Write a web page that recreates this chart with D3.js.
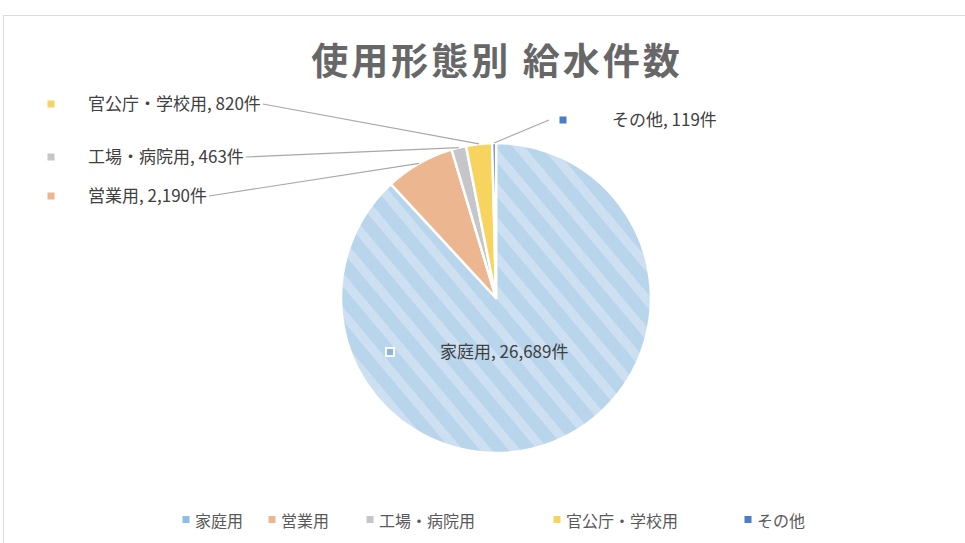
<!DOCTYPE html>
<html>
<head>
<meta charset="utf-8">
<script src="https://cdn.jsdelivr.net/npm/d3@7/dist/d3.min.js"></script>
<style>
  body { margin: 0; background: #fff; }
  svg { display: block; font-family: "Noto Sans CJK JP", "Noto Sans", sans-serif; }
</style>
</head>
<body>
<svg id="chart"></svg>
<script>
const categories = ["家庭用", "営業用", "工場・病院用", "官公庁・学校用", "その他"];
const counts = [26689, 2190, 463, 820, 119];
const colors = ["#b9d5ec", "#ecb690", "#c6c6ca", "#f6d45e", "#4f7bc9"];
const title = "使用形態別 給水件数";

// where Excel put the data labels (text start x, baseline y, marker x)
const labelPos = [
  { x: 440, y: 358, mx: 390 },
  { x: 88, y: 202, mx: 51 },
  { x: 88, y: 163, mx: 51 },
  { x: 88, y: 110, mx: 51 },
  { x: 612, y: 126, mx: 563 }
];

const width = 965;
const height = 543;
const labelSize = 17;

const svg = d3.select("#chart")
  .attr("width", width)
  .attr("height", height);

// stripes for the big slice
const defs = svg.append("defs");
const pat = defs.append("pattern")
  .attr("id", "stripes")
  .attr("patternUnits", "userSpaceOnUse")
  .attr("width", 22)
  .attr("height", 22)
  .attr("patternTransform", "rotate(-40)");
pat.append("rect").attr("width", 22).attr("height", 22).attr("fill", colors[0]);
pat.append("rect").attr("width", 9).attr("height", 22).attr("fill", "#cce0f2");

// chart area border
svg.append("rect")
  .attr("x", 3.5).attr("y", 15.5)
  .attr("width", width + 10).attr("height", height)
  .attr("fill", "none")
  .attr("stroke", "#dcdcdc");

svg.append("text")
  .attr("x", 497)
  .attr("y", 75)
  .attr("text-anchor", "middle")
  .attr("font-size", 37)
  .attr("letter-spacing", 3)
  .attr("font-weight", "bold")
  .attr("fill", "#676767")
  .text(title);

const cx = 496, cy = 298, r = 155;

const pie = d3.pie().sort(null).value(d => d);
const arcs = pie(counts);

const arc = d3.arc().innerRadius(0).outerRadius(r);
const edge = d3.arc().innerRadius(r).outerRadius(r);

const g = svg.append("g").attr("transform", `translate(${cx},${cy})`);

g.selectAll("path.slice")
  .data(arcs)
  .enter().append("path")
  .attr("class", "slice")
  .attr("d", arc)
  .attr("fill", (d, i) => i === 0 ? "url(#stripes)" : colors[i])
  .attr("stroke", "#fff")
  .attr("stroke-width", 2.5)
  .attr("stroke-linejoin", "round");

const fmt = d3.format(",");

function textWidth(s) {
  const t = svg.append("text").attr("font-size", labelSize).text(s);
  const w = t.node().getComputedTextLength();
  t.remove();
  return w + 2;
}

// leader lines
arcs.forEach((d, i) => {
  if (i === 0) return;
  const p = edge.centroid(d);
  const lp = labelPos[i];
  const txt = `${categories[i]}, ${fmt(counts[i])}件`;
  const x0 = i === 4 ? lp.mx - 14 : lp.x + textWidth(txt);
  svg.append("path")
    .attr("d", d3.line()([[x0, lp.y - 6], [cx + p[0], cy + p[1]]]))
    .attr("fill", "none")
    .attr("stroke", "#a8a8a8")
    .attr("stroke-width", 1.2);
});

// labels
arcs.forEach((d, i) => {
  const lp = labelPos[i];
  if (i === 0) {
    svg.append("rect")
      .attr("x", lp.mx - 5).attr("y", lp.y - 11)
      .attr("width", 10).attr("height", 10)
      .attr("fill", "#fff");
    svg.append("rect")
      .attr("x", lp.mx - 3).attr("y", lp.y - 9)
      .attr("width", 6).attr("height", 6)
      .attr("fill", "#8fb4dc");
  } else {
    svg.append("rect")
      .attr("x", lp.mx - 3.5).attr("y", lp.y - 9.5)
      .attr("width", 7).attr("height", 7)
      .attr("fill", colors[i]);
  }
  svg.append("text")
    .attr("x", lp.x)
    .attr("y", lp.y)
    .attr("font-size", labelSize)
    .attr("fill", "#404040")
    .text(`${categories[i]}, ${fmt(counts[i])}件`);
});

// legend
const legendX = [186, 272, 370, 557, 748];
const legend = svg.append("g");
categories.forEach((c, i) => {
  legend.append("rect")
    .attr("x", legendX[i] - 3.5).attr("y", 516)
    .attr("width", 7).attr("height", 7)
    .attr("fill", i === 0 ? "#8fbde6" : colors[i]);
  legend.append("text")
    .attr("x", legendX[i] + 9)
    .attr("y", 527)
    .attr("font-size", 16)
    .attr("fill", "#595959")
    .text(c);
});
</script>
</body>
</html>
